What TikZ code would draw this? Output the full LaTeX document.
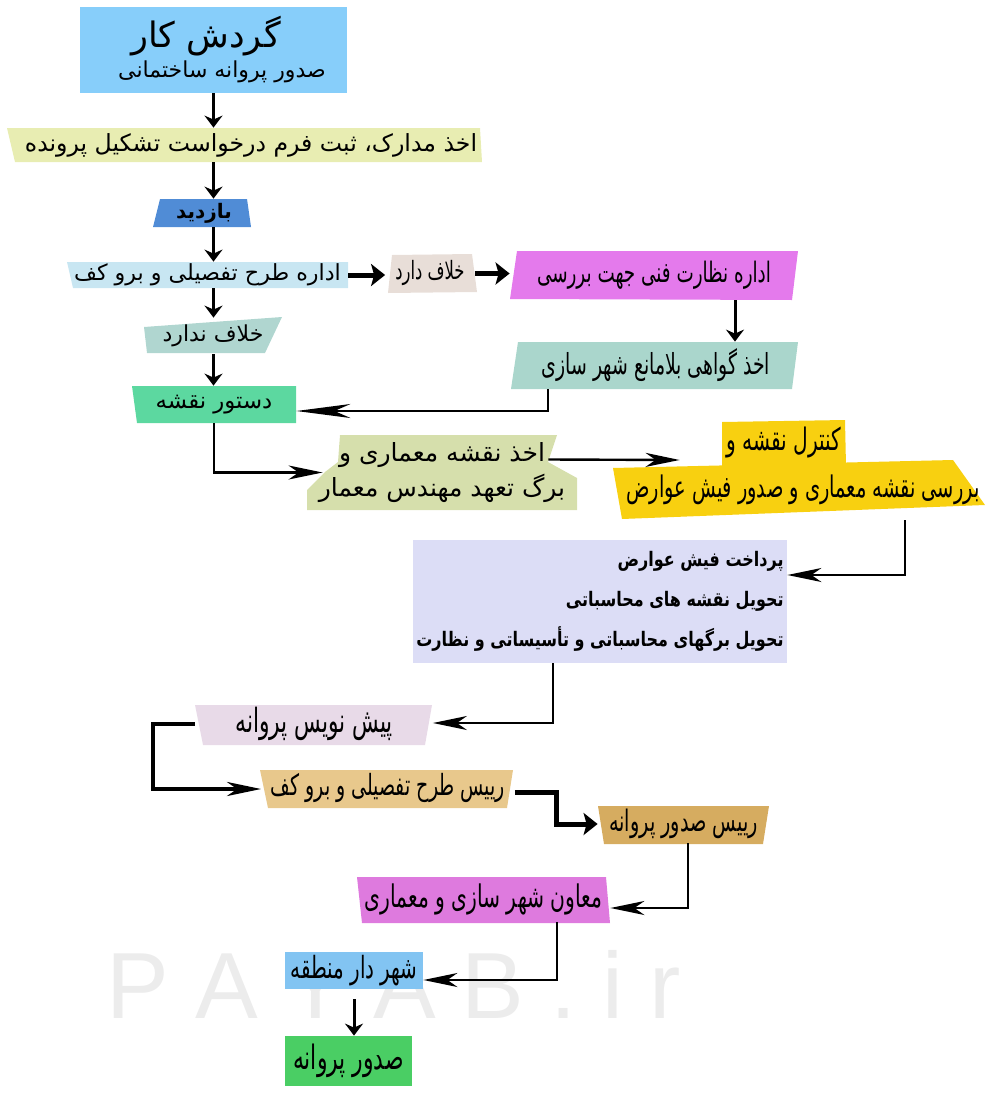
\documentclass[tikz,border=0pt]{standalone}
\usepackage{fontspec}
\usetikzlibrary{arrows.meta}
\TeXXeTstate=1
\newfontfamily\fawide[Script=Arabic]{DejaVu Sans}
\newfontfamily\famid[Script=Arabic,FakeStretch=0.8]{DejaVu Sans}
\newfontfamily\fanarrow[Script=Arabic,FakeStretch=0.65]{DejaVu Sans}
\newfontfamily\wmfont{Liberation Sans}
\definecolor{titleblue}{RGB}{135,206,250}
\definecolor{docsgreen}{RGB}{232,237,178}
\definecolor{visitblue}{RGB}{80,140,214}
\definecolor{planblue}{RGB}{200,230,242}
\definecolor{violbeige}{RGB}{232,222,216}
\definecolor{supmagenta}{RGB}{228,122,236}
\definecolor{clearteal}{RGB}{170,214,204}
\definecolor{noviolteal}{RGB}{176,214,208}
\definecolor{ordergreen}{RGB}{92,216,160}
\definecolor{archolive}{RGB}{214,223,172}
\definecolor{checkyellow}{RGB}{248,208,16}
\definecolor{paylavender}{RGB}{220,221,246}
\definecolor{draftpink}{RGB}{232,218,232}
\definecolor{headtan}{RGB}{232,200,140}
\definecolor{issuetan}{RGB}{214,172,96}
\definecolor{deputyorchid}{RGB}{222,122,222}
\definecolor{mayorblue}{RGB}{130,196,242}
\definecolor{permitgreen}{RGB}{74,206,100}
\definecolor{wmgrey}{RGB}{236,236,236}

\begin{document}
\begin{tikzpicture}[x=0.5pt, y=-0.5pt,
	box/.style={inner sep=0pt},
	arr/.style={line width=1.5pt, -{Stealth[length=6pt,width=9pt,inset=2pt]}},
	longarr/.style={line width=1.2pt, -{Stealth[length=17pt,width=7pt,inset=5pt]}},
	heavyarr/.style={line width=2.5pt, -{Stealth[length=7pt,width=11pt,inset=1.5pt]}}]
	
	\useasboundingbox (0,0) rectangle (1000,1103);
	
	% Watermark
	\node[text=wmgrey, font=\wmfont\fontsize{47}{47}\selectfont] (watermark) at (394,984) {P A Y A B . i r};
	
	% Title
	\node[fill=titleblue, minimum width=133.5pt, minimum height=43pt] (title) at (213.5,50) {};
	\node[font=\fawide\fontsize{17.5}{20}\selectfont] (titletext) at (206,36) {\beginR گردش کار\endR};
	\node[font=\fawide\fontsize{11}{13}\selectfont] (subtitle) at (222,72) {\beginR صدور پروانه ساختمانی\endR};
	
	% Left column
	\fill[docsgreen] (7,128) -- (480,128) -- (482,162) -- (15,162) -- cycle;
	\node[box, minimum width=231pt, minimum height=17pt, font=\fawide\fontsize{11.8}{14}\selectfont] (docs) at (251,145) {\beginR اخذ مدارک، ثبت فرم درخواست تشکیل پرونده\endR};
	
	\fill[visitblue] (160,199) -- (247,199) -- (251,227) -- (153,227) -- cycle;
	\node[box, minimum width=49pt, minimum height=14pt, font=\fawide\bfseries\fontsize{10}{12}\selectfont] (visit) at (204,213) {\beginR بازدید\endR};
	
	\fill[planblue] (67,262) -- (348,262) -- (348,288) -- (73,288) -- cycle;
	\node[box, minimum width=140.5pt, minimum height=13pt, font=\fawide\fontsize{11.1}{13}\selectfont] (detailplan) at (207.5,275) {\beginR اداره طرح تفصیلی و برو کف\endR};
	
	\fill[noviolteal] (144,327) -- (282,317) -- (265,353) -- (147,353) -- cycle;
	\node[box, minimum width=69pt, minimum height=18pt, font=\fawide\fontsize{11}{13}\selectfont] (noviolation) at (213,336) {\beginR خلاف ندارد\endR};
	
	\fill[ordergreen] (132,386) -- (296,386) -- (296,423) -- (137,423) -- cycle;
	\node[box, minimum width=82pt, minimum height=18.5pt, font=\fawide\fontsize{11.4}{13}\selectfont] (maporder) at (214,404.5) {\beginR دستور نقشه\endR};
	
	% Right branch
	\fill[violbeige] (392,255) -- (472,254) -- (477,292) -- (388,293) -- cycle;
	\node[box, minimum width=44.5pt, minimum height=19.5pt, font=\fanarrow\fontsize{12.6}{15}\selectfont] (violation) at (430,273.5) {\beginR خلاف دارد\endR};
	
	\fill[supmagenta] (517,251) -- (798,251) -- (792,300) -- (510,299) -- cycle;
	\node[box, minimum width=144pt, minimum height=24.5pt, font=\fanarrow\fontsize{14.1}{17}\selectfont] (supervision) at (654,275.5) {\beginR اداره نظارت فنی جهت بررسی\endR};
	
	\fill[clearteal] (518,342) -- (798,342) -- (792,389) -- (511,389) -- cycle;
	\node[box, minimum width=143.5pt, minimum height=23.5pt, font=\fanarrow\fontsize{14.5}{17}\selectfont] (clearance) at (656,365.5) {\beginR اخذ گواهی بلامانع شهر سازی\endR};
	
	% Architecture map
	\fill[archolive] (340,435) -- (557,435) -- (548,462) -- (577,478) -- (577,510) -- (307,510) -- (307,490) -- (325,472) -- (338,462) -- cycle;
	\node[box, minimum width=135pt, minimum height=37.5pt, align=center, font=\fawide\fontsize{12.5}{17.5}\selectfont] (archmap) at (442,472.5) {\beginR اخذ نقشه معماری و\endR\\ \beginR برگ تعهد مهندس معمار\endR};
	
	\fill[checkyellow] (722,422) -- (845,420) -- (846,466) -- (722,466) -- cycle;
	\fill[checkyellow] (613,468) -- (953,460) -- (985,505) -- (622,519) -- cycle;
	\node[box, minimum width=62pt, minimum height=23pt, font=\fanarrow\fontsize{15.5}{18}\selectfont] (check) at (784,443) {\beginR کنترل نقشه و\endR};
	\node[box, minimum width=186pt, minimum height=30pt, font=\fanarrow\fontsize{14.9}{18}\selectfont] (review) at (803,490) {\beginR بررسی نقشه معماری و صدور فیش عوارض\endR};
	
	\node[fill=paylavender, minimum width=187pt, minimum height=61.5pt, inner sep=0pt, align=right, font=\famid\bfseries\fontsize{10}{20}\selectfont] (payment) at (600,601.5) {\beginR پرداخت فیش عوارض\endR\\ \beginR تحویل نقشه های محاسباتی\endR\\ \beginR تحویل برگهای محاسباتی و تأسیساتی و نظارت\endR};
	
	% Lower part
	\fill[draftpink] (195,705) -- (432,705) -- (425,745) -- (203,745) -- cycle;
	\node[box, minimum width=118.5pt, minimum height=20pt, font=\fanarrow\fontsize{16.7}{19}\selectfont] (draft) at (314,724) {\beginR پیش نویس پروانه\endR};
	
	\fill[headtan] (260,770) -- (513,770) -- (507,808) -- (268,808) -- cycle;
	\node[box, minimum width=126.5pt, minimum height=19pt, font=\fanarrow\fontsize{14.6}{17}\selectfont] (headplan) at (388,788) {\beginR رییس طرح تفصیلی و برو کف\endR};
	
	\fill[issuetan] (598,806) -- (769,806) -- (763,844) -- (604,844) -- cycle;
	\node[box, minimum width=85.5pt, minimum height=19pt, font=\fanarrow\fontsize{14.8}{17}\selectfont] (headissue) at (683.5,824) {\beginR رییس صدور پروانه\endR};
	
	\fill[deputyorchid] (357,877) -- (606,877) -- (610,923) -- (362,923) -- cycle;
	\node[box, minimum width=126.5pt, minimum height=23pt, font=\fanarrow\fontsize{15.6}{18}\selectfont] (deputy) at (483.5,899) {\beginR معاون شهر سازی و معماری\endR};
	
	\node[fill=mayorblue, minimum width=69pt, minimum height=18.5pt, inner sep=0pt, font=\fanarrow\fontsize{15.3}{17}\selectfont] (mayor) at (354,970.5) {\beginR شهر دار منطقه\endR};
	
	\node[fill=permitgreen, minimum width=63.5pt, minimum height=25pt, inner sep=0pt, font=\fanarrow\fontsize{16.8}{19}\selectfont] (permit) at (348.5,1061) {\beginR صدور پروانه\endR};
	
	% Connections
	\draw[arr] (title.south) -- (title.south |- docs.north);
	\draw[arr] (title.south |- docs.south) -- (title.south |- visit.north);
	\draw[arr] (title.south |- visit.south) -- (title.south |- detailplan.north);
	\draw[arr] (title.south |- detailplan.south) -- (title.south |- noviolation.north);
	\draw[arr] (title.south |- noviolation.south) -- (title.south |- maporder.north);
	\draw[heavyarr] (detailplan.east) -- (detailplan.east -| violation.west);
	\draw[heavyarr] (violation.east) -- (violation.east -| supervision.west);
	\draw[arr] ([xshift=40.5pt]supervision.south) -- ([xshift=40.5pt]supervision.south |- clearance.north);
	\draw[longarr, -{Stealth[length=27pt,width=7pt,inset=8pt]}] ([xshift=-54pt]clearance.south) |- ([yshift=-3.25pt]maporder.east);
	\draw[longarr] (maporder.south) |- ([xshift=8pt]archmap.west);
	\draw[longarr] ([xshift=-14.5pt,yshift=6.5pt]archmap.east) -- ([xshift=-21pt,yshift=-8.5pt]check.west);
	\draw[longarr] ([xshift=51pt]review.south) |- ([yshift=13.25pt]payment.east);
	\draw[longarr] ([xshift=-23.5pt]payment.south) |- ([yshift=0.5pt]draft.east);
	\draw[longarr, line width=2pt] (draft.west) -- ++(-42,0) |- ([yshift=-0.5pt]headplan.west);
	\draw[heavyarr] ([yshift=-2pt]headplan.east) -- ++(42,0) |- (headissue.west);
	\draw[longarr] ([xshift=2.25pt]headissue.south) |- ([yshift=-4.5pt]deputy.east);
	\draw[longarr] ([xshift=36.75pt]deputy.south) |- ([yshift=-4.75pt]mayor.east);
	\draw[arr, shorten <=5pt] (mayor.south) -- (mayor.south |- permit.north);
	
\end{tikzpicture}
\end{document}
